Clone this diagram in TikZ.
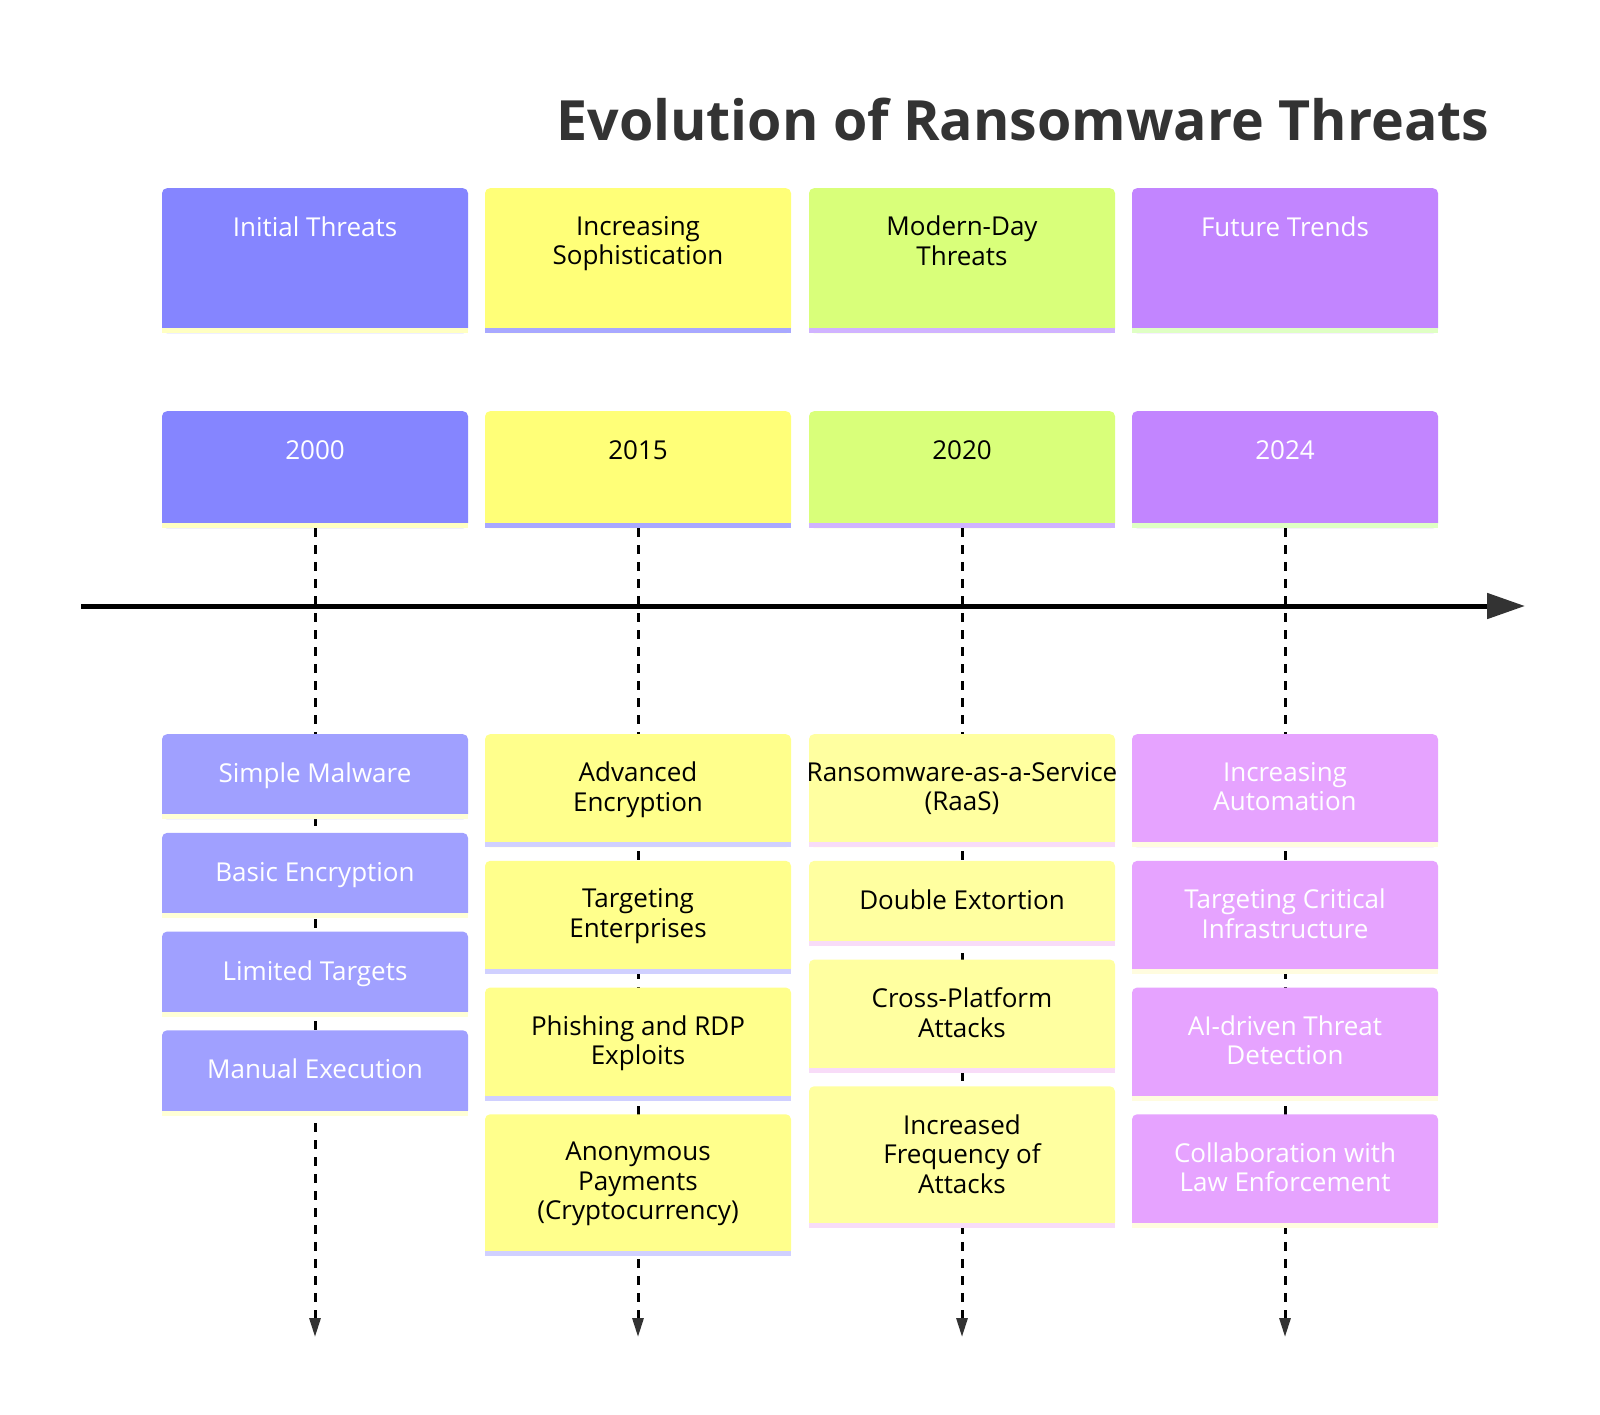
\documentclass[tikz,border=0pt]{standalone}
\usepackage{fontspec}
\setmainfont{Open Sans}
\usetikzlibrary{positioning, arrows.meta}

\definecolor{titlegray}{HTML}{333333}
\definecolor{headgray}{HTML}{333333}
%% section / year colours
\definecolor{colA}{HTML}{8585FF}
\definecolor{colB}{HTML}{FFFF78}
\definecolor{colC}{HTML}{D9FF7A}
\definecolor{colD}{HTML}{C285FF}
\definecolor{barA}{HTML}{FFFFC2}
\definecolor{barB}{HTML}{A8A8FF}
\definecolor{barC}{HTML}{D0B3FF}
\definecolor{barD}{HTML}{DFFFC4}
%% event colours
\definecolor{evA}{HTML}{A0A0FF}
\definecolor{evB}{HTML}{FFFF8C}
\definecolor{evC}{HTML}{FFFFA0}
\definecolor{evD}{HTML}{E6A3FF}
\definecolor{evbarA}{HTML}{FFFFD6}
\definecolor{evbarB}{HTML}{D0D0FF}
\definecolor{evbarC}{HTML}{F8DCF8}
\definecolor{evbarD}{HTML}{FFFCDF}

%% coloured strip along the bottom edge of a box
\newcommand{\stripe}[2]{\fill[#2] ([yshift=5pt]#1.south west) rectangle (#1.south east);}

\begin{document}
\begin{tikzpicture}[
  x=1pt, y=-1pt,
  every node/.style={font=\fontsize{26}{29.5}\selectfont},
  box/.style     ={rounded corners=5pt, inner sep=0pt, minimum width=306pt,
                   anchor=north},
  secbox/.style  ={box, minimum height=145pt},
  yearbox/.style ={box, minimum height=117pt},
  oneline/.style ={box, minimum height=85pt},
  twoline/.style ={box, minimum height=113pt},
  threeline/.style={box, minimum height=141pt},
  lbl/.style     ={anchor=north, inner sep=0pt, yshift=-28pt, align=center,
                   execute at begin node=\strut},
  timeaxis/.style={line width=5pt, draw=black,
                   -{Triangle[length=38pt, width=25pt, color=headgray]}},
  guide/.style   ={line width=3pt, draw=black, dash pattern=on 9pt off 8pt,
                   -{Triangle[length=19pt, width=11pt, color=headgray]}},
]

\useasboundingbox[fill=white] (0,0) rectangle (1600,1414);

%% ---- x layout (column centres, pt) ----
%%  315 / 638 / 962 / 1285
%% ---- y layout ----
%%  140  title baseline
%%  188  section boxes
%%  411  year boxes
%%  606  time axis
%%  734  first event row

%% ---- Title ----
\node[font=\fontsize{55.5}{60}\selectfont\bfseries, text=titlegray, anchor=base]
  (title) at (1023,140) {Evolution of Ransomware Threats};

%% ---- Sections ----
\node[secbox, fill=colA, label={[lbl, text=white]north:Initial Threats}] (secA) at (315,188) {};
\node[secbox, fill=colB, label={[lbl]north:{Increasing\\Sophistication}}] (secB) at (638,188) {};
\node[secbox, fill=colC, label={[lbl]north:{Modern-Day\\Threats}}] (secC) at (962,188) {};
\node[secbox, fill=colD, label={[lbl, text=white]north:Future Trends}] (secD) at (1285,188) {};
\stripe{secA}{barA} \stripe{secB}{barB} \stripe{secC}{barC} \stripe{secD}{barD}

%% ---- Years ----
\node[yearbox, fill=colA, label={[lbl, text=white]north:2000}] (yearA) at (315,411) {};
\node[yearbox, fill=colB, label={[lbl]north:2015}] (yearB) at (638,411) {};
\node[yearbox, fill=colC, label={[lbl]north:2020}] (yearC) at (962,411) {};
\node[yearbox, fill=colD, label={[lbl, text=white]north:2024}] (yearD) at (1285,411) {};
\stripe{yearA}{barA} \stripe{yearB}{barB} \stripe{yearC}{barC} \stripe{yearD}{barD}

%% ---- Dashed guides (behind the events) ----
\coordinate (endA) at (315,1337);
\coordinate (endB) at (638,1337);
\coordinate (endC) at (962,1337);
\coordinate (endD) at (1285,1337);
\draw[guide] (yearA.south) -- (endA);
\draw[guide] (yearB.south) -- (endB);
\draw[guide] (yearC.south) -- (endC);
\draw[guide] (yearD.south) -- (endD);

%% ---- Time axis ----
\coordinate (axisL) at (81,606);
\coordinate (axisR) at (1525,606);
\draw[timeaxis] (axisL) -- (axisR);

%% ---- Events: 2000 ----
\node[oneline, fill=evA, label={[lbl, text=white]north:Simple Malware}] (evA1) at (315,734) {};
\node[oneline, fill=evA, below=13.3pt of evA1, label={[lbl, text=white]north:Basic Encryption}] (evA2) {};
\node[oneline, fill=evA, below=13.3pt of evA2, label={[lbl, text=white]north:Limited Targets}] (evA3) {};
\node[oneline, fill=evA, below=13.3pt of evA3, label={[lbl, text=white]north:Manual Execution}] (evA4) {};
\stripe{evA1}{evbarA} \stripe{evA2}{evbarA} \stripe{evA3}{evbarA} \stripe{evA4}{evbarA}

%% ---- Events: 2015 ----
\node[twoline, fill=evB, label={[lbl]north:{Advanced\\Encryption}}] (evB1) at (638,734) {};
\node[twoline, fill=evB, below=13.3pt of evB1, label={[lbl]north:{Targeting\\Enterprises}}] (evB2) {};
\node[twoline, fill=evB, below=13.3pt of evB2, label={[lbl]north:{Phishing and RDP\\Exploits}}] (evB3) {};
\node[threeline, fill=evB, below=13.3pt of evB3,
  label={[lbl]north:{Anonymous\\Payments\\(Cryptocurrency)}}] (evB4) {};
\stripe{evB1}{evbarB} \stripe{evB2}{evbarB} \stripe{evB3}{evbarB} \stripe{evB4}{evbarB}

%% ---- Events: 2020 ----
\node[twoline, fill=evC, label={[lbl]north:{Ransomware-as-a-Service\\(RaaS)}}] (evC1) at (962,734) {};
\node[oneline, fill=evC, below=13.3pt of evC1, label={[lbl]north:Double Extortion}] (evC2) {};
\node[twoline, fill=evC, below=13.3pt of evC2, label={[lbl]north:{Cross-Platform\\Attacks}}] (evC3) {};
\node[threeline, fill=evC, below=13.3pt of evC3,
  label={[lbl]north:{Increased\\Frequency of\\Attacks}}] (evC4) {};
\stripe{evC1}{evbarC} \stripe{evC2}{evbarC} \stripe{evC3}{evbarC} \stripe{evC4}{evbarC}

%% ---- Events: 2024 ----
\node[twoline, fill=evD, label={[lbl, text=white]north:{Increasing\\Automation}}] (evD1) at (1285,734) {};
\node[twoline, fill=evD, below=13.3pt of evD1,
  label={[lbl, text=white]north:{Targeting Critical\\Infrastructure}}] (evD2) {};
\node[twoline, fill=evD, below=13.3pt of evD2,
  label={[lbl, text=white]north:{AI-driven Threat\\Detection}}] (evD3) {};
\node[twoline, fill=evD, below=13.3pt of evD3,
  label={[lbl, text=white]north:{Collaboration with\\Law Enforcement}}] (evD4) {};
\stripe{evD1}{evbarD} \stripe{evD2}{evbarD} \stripe{evD3}{evbarD} \stripe{evD4}{evbarD}

\end{tikzpicture}
\end{document}
